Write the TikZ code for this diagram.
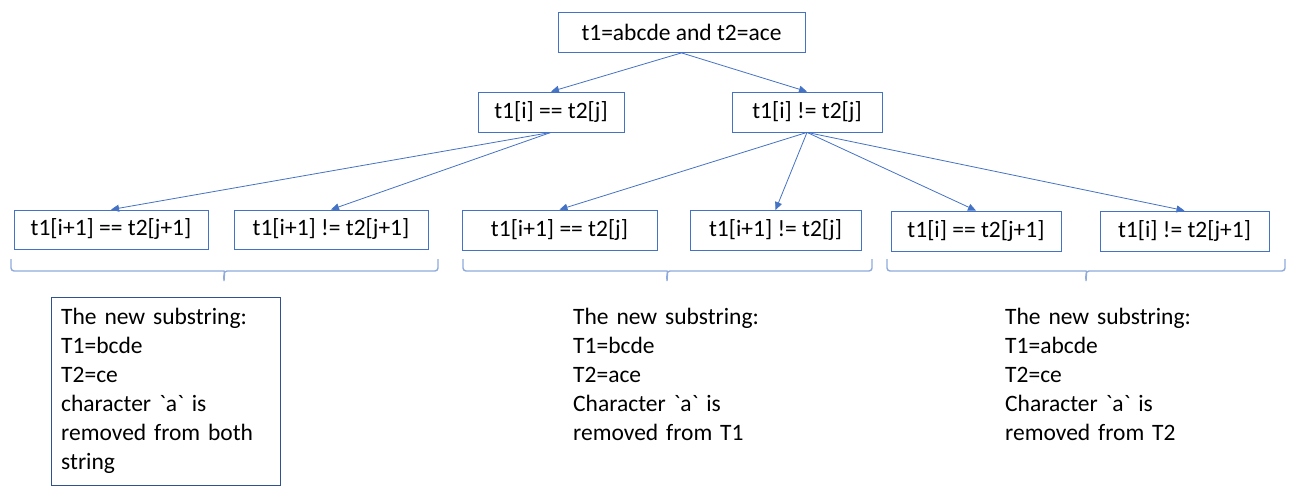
\documentclass[tikz,border=0pt]{standalone}
\usepackage{fontspec}
\setmainfont{Carlito}
\usetikzlibrary{arrows.meta, calc}
\definecolor{boxblue}{HTML}{4472C4}
\definecolor{darkblue}{HTML}{2F528F}
\definecolor{braceblue}{HTML}{8FAADC}
\tikzstyle{casebox} = [rectangle, draw=boxblue, thick, inner sep=0pt, minimum height=40pt, text centered]
\tikzstyle{arrow} = [draw=boxblue, thick, -{Triangle[length=8pt, width=7pt]}]
\tikzstyle{groupbrace} = [draw=braceblue, line width=1.4pt]
\tikzstyle{note} = [align=left, anchor=north west, inner sep=0pt, text width=215pt]
% brace below a group: left end, tip, right end
\newcommand{\bracegroup}[3]{%
    \draw [groupbrace] (#1) [rounded corners=3pt] |- ($(#2)+(-3,-10)$) [sharp corners]
        to[out=0,in=90] (#2) to[out=90,in=180] ($(#2)+(3,-10)$) [rounded corners=3pt] -| (#3);
}

\begin{document}
\begin{tikzpicture}[x=1pt, y=-1pt, font=\fontsize{23.5}{29}\selectfont]
    \useasboundingbox (0,0) rectangle (1293,489);
    % top and middle level
    \node (root) [casebox, minimum width=247pt] at (681.5,32.5) {t1=abcde and t2=ace};
    \node (eq) [casebox, minimum width=146pt] at (551,112) {t1[i] == t2[j]};
    \node (neq) [casebox, minimum width=150pt] at (807,112) {t1[i] != t2[j]};
    % bottom level
    \node (eqeq) [casebox, minimum width=194pt, minimum height=39pt] at (111,229.5) {t1[i+1] == t2[j+1]};
    \node (eqneq) [casebox, minimum width=194pt, minimum height=39pt] at (331,229.5) {t1[i+1] != t2[j+1]};
    \node (ieq) [casebox, minimum width=195pt] at (559.5,230) {t1[i+1] == t2[j]};
    \node (ineq) [casebox, minimum width=171pt] at (775.5,230.5) {t1[i+1] != t2[j]};
    \node (jeq) [casebox, minimum width=170pt] at (976,231) {t1[i] == t2[j+1]};
    \node (jneq) [casebox, minimum width=169pt] at (1184.5,231) {t1[i] != t2[j+1]};

    \draw [arrow] (root.south) -- (eq.north);
    \draw [arrow] (root.south) -- (neq.north);
    \draw [arrow] (eq.south) -- (eqeq.north);
    \draw [arrow] (eq.south) -- (eqneq.north);
    \draw [arrow] (neq.south) -- (ieq.north);
    \draw [arrow] (neq.south) -- (ineq.north);
    \draw [arrow] (neq.south) -- (jeq.north);
    \draw [arrow] (neq.south) -- (jneq.north);

    % braces
    \coordinate (b1l) at (11,259);
    \coordinate (b1t) at (224,281);
    \coordinate (b1r) at (438,259);
    \coordinate (b2l) at (463,259);
    \coordinate (b2t) at (667,281);
    \coordinate (b2r) at (872,259);
    \coordinate (b3l) at (887,259);
    \coordinate (b3t) at (1086,281);
    \coordinate (b3r) at (1285,259);
    \bracegroup{b1l}{b1t}{b1r}
    \bracegroup{b2l}{b2t}{b2r}
    \bracegroup{b3l}{b3t}{b3r}

    % results
    \node (both) [draw=darkblue, thick, minimum width=229pt, minimum height=188pt] at (165.5,391) {};
    \node (bothtxt) [note] at (61,308) {The new substring:\\T1=bcde\\T2=ce\\character \textasciigrave a\textasciigrave{} is\\removed from both\\string};
    \node (first) [note] at (573,308) {The new substring:\\T1=bcde\\T2=ace\\Character \textasciigrave a\textasciigrave{} is\\removed from T1};
    \node (second) [note] at (1005,308) {The new substring:\\T1=abcde\\T2=ce\\Character \textasciigrave a\textasciigrave{} is\\removed from T2};
\end{tikzpicture}
\end{document}
